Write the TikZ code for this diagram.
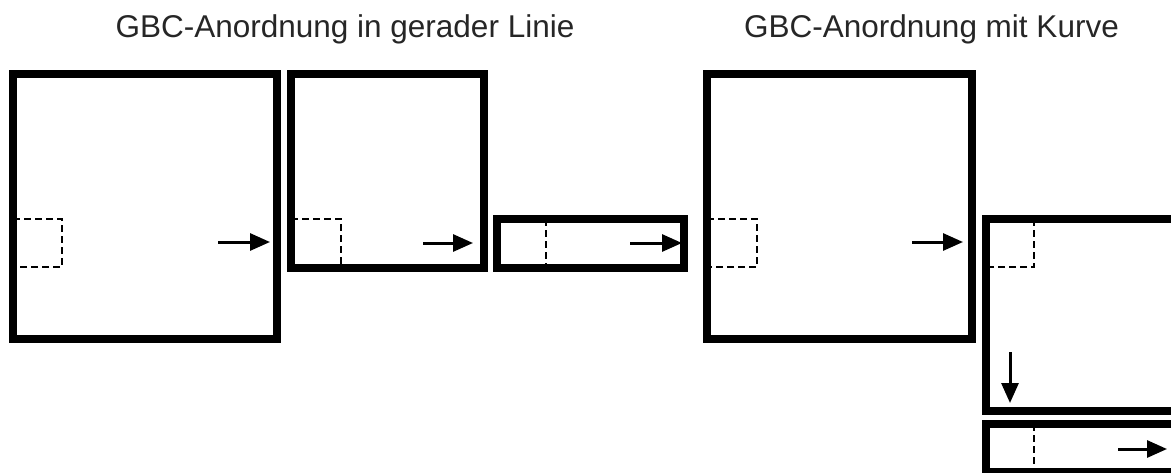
\documentclass[tikz,border=0pt]{standalone}
\usepackage{fontspec}
\setmainfont{Liberation Sans}
\usetikzlibrary{arrows.meta}
\begin{document}
\begin{tikzpicture}[x=1pt,y=-1pt,
  box/.style={draw=black,line width=8pt,inner sep=0pt,outer sep=0pt},
  dsh/.style={line width=2pt,dash pattern=on 7pt off 4pt},
  arr/.style={line width=3pt,-{Triangle[length=20pt,width=17pt]}},
  ttl/.style={anchor=base,font=\fontsize{31.5}{36}\selectfont,text=black!85,inner sep=0pt}]
\useasboundingbox (0,0) rectangle (1171,472);
\clip (0,0) rectangle (1171,472);
\node[ttl] (t1) at (345,37) {GBC-Anordnung in gerader Linie};
\node[ttl] (t2) at (931.5,37) {GBC-Anordnung mit Kurve};
% dashed marks
\draw[dsh] (13,219) -- (62,219) -- (62,267) -- (13,267);
\draw[dsh] (291,219) -- (341,219) -- (341,268);
\draw[dsh] (546,219) -- (546,268);
\draw[dsh] (707,219) -- (757,219) -- (757,267) -- (707,267);
\draw[dsh] (1034,219) -- (1034,267) -- (986,267);
\draw[dsh] (1034,424) -- (1034,472);
% boxes
\draw[box] (13,74) rectangle (277,339) coordinate (b1);
\draw[box] (291,74) rectangle (484,268) coordinate (b2);
\draw[box] (497,219) rectangle (684,268) coordinate (b3);
\draw[box] (707,74) rectangle (972,339) coordinate (b4);
\draw[box] (986,219) rectangle (1200,411) coordinate (b5);
\draw[box] (986,424) rectangle (1200,472) coordinate (b6);
% arrows
\coordinate (a1s) at (218,242); \coordinate (a1e) at (270,242);
\coordinate (a2s) at (423,243); \coordinate (a2e) at (473,243);
\coordinate (a3s) at (630,243); \coordinate (a3e) at (682,243);
\coordinate (a4s) at (912,242); \coordinate (a4e) at (963,242);
\coordinate (a5s) at (1010,352); \coordinate (a5e) at (1010,403);
\coordinate (a6s) at (1118,449); \coordinate (a6e) at (1167,449);
\draw[arr] (a1s) -- (a1e);
\draw[arr] (a2s) -- (a2e);
\draw[arr] (a3s) -- (a3e);
\draw[arr] (a4s) -- (a4e);
\draw[arr] (a5s) -- (a5e);
\draw[arr] (a6s) -- (a6e);
\end{tikzpicture}
\end{document}
